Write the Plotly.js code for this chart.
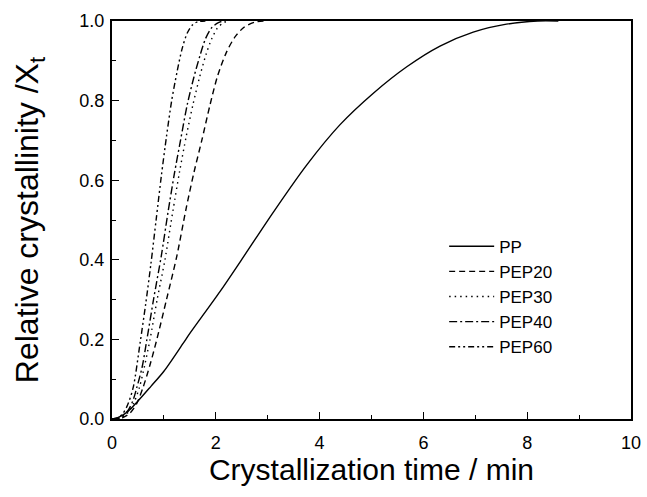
<!DOCTYPE html>
<html>
<head>
<meta charset="utf-8">
<script src="https://cdn.plot.ly/plotly-3.0.1.min.js"></script>
<style>html,body{margin:0;padding:0;background:#fff;}#chart{width:647px;height:497px;}</style>
</head>
<body>
<div id="chart"></div>
<script>
// Data
const ppTime = [0, 0.1, 0.3, 0.5, 0.75, 1.0, 1.37, 1.5, 2.08, 2.47, 3.11, 3.75, 4.39, 5.03, 5.68, 6.32, 6.96, 7.6, 8.2, 8.6];
const ppX    = [0, 0.003, 0.018, 0.045, 0.082, 0.12, 0.19, 0.215, 0.32, 0.395, 0.52, 0.638, 0.739, 0.818, 0.885, 0.937, 0.972, 0.992, 1.0, 1.0];

const pep20Time = [0, 0.2, 0.35, 0.48, 0.6, 0.73, 0.86, 1.05, 1.25, 1.43, 1.58, 1.73, 1.89, 2.03, 2.2, 2.37, 2.55, 2.75, 2.95];
const pep20X    = [0, 0.003, 0.015, 0.04, 0.08, 0.135, 0.198, 0.30, 0.41, 0.53, 0.62, 0.70, 0.79, 0.86, 0.92, 0.96, 0.985, 0.997, 1.0];

const pep30Time = [0, 0.15, 0.3, 0.42, 0.53, 0.63, 0.73, 0.87, 1.02, 1.17, 1.3, 1.43, 1.56, 1.69, 1.81, 1.92, 2.03, 2.15, 2.25];
const pep30X    = [0, 0.002, 0.015, 0.04, 0.08, 0.135, 0.198, 0.30, 0.40, 0.52, 0.62, 0.71, 0.79, 0.86, 0.915, 0.955, 0.982, 0.996, 1.0];

const pep40Time = [0, 0.15, 0.3, 0.4, 0.48, 0.58, 0.67, 0.8, 0.95, 1.08, 1.2, 1.32, 1.45, 1.58, 1.70, 1.8, 1.92, 2.05, 2.15];
const pep40X    = [0, 0.003, 0.02, 0.045, 0.08, 0.13, 0.198, 0.30, 0.41, 0.52, 0.615, 0.70, 0.79, 0.86, 0.915, 0.955, 0.983, 0.996, 1.0];

const pep60Time = [0, 0.1, 0.2, 0.3, 0.41, 0.54, 0.65, 0.75, 0.85, 0.95, 1.05, 1.15, 1.25, 1.35, 1.45, 1.55, 1.65, 1.8];
const pep60X    = [0, 0.003, 0.012, 0.035, 0.08, 0.19, 0.29, 0.39, 0.50, 0.61, 0.71, 0.80, 0.87, 0.93, 0.97, 0.99, 0.998, 1.0];

const seriesNames = ['PP', 'PEP20', 'PEP30', 'PEP40', 'PEP60'];
const xTickVals = [0, 2, 4, 6, 8, 10];
const yTickVals = [0, 0.2, 0.4, 0.6, 0.8, 1.0];

const dashes = ['solid', '6px,4px', '1.5px,4px', '8px,3px,2px,3px', '6px,3px,2px,3px,2px,3px'];
const xs = [ppTime, pep20Time, pep30Time, pep40Time, pep60Time];
const ys = [ppX, pep20X, pep30X, pep40X, pep60X];

const traces = seriesNames.map((n, i) => ({
  x: xs[i], y: ys[i], name: n, type: 'scatter', mode: 'lines',
  line: {color: '#000', width: 1.4, dash: dashes[i], shape: 'spline', smoothing: 0.8}
}));

const fam = 'Liberation Sans, Arial, sans-serif';
const axisFont = {family: fam, size: 18, color: '#000'};
const layout = {
  width: 647, height: 497,
  margin: {l: 112, r: 16, t: 21, b: 78},
  paper_bgcolor: '#fff', plot_bgcolor: '#fff',
  showlegend: true,
  legend: {x: 0.64, y: 0.478, xanchor: 'left', yanchor: 'top', bgcolor: 'rgba(0,0,0,0)',
           font: {family: fam, size: 17, color: '#000'},
           itemwidth: 45, tracegroupgap: 0},
  xaxis: {
    range: [0, 10], tickvals: xTickVals, ticktext: xTickVals.map(String),
    ticks: 'inside', ticklen: 7, tickwidth: 1.3, tickcolor: '#000',
    minor: {ticks: 'inside', ticklen: 4, tickwidth: 1, tickcolor: '#000', dtick: 1},
    showline: true, linewidth: 2, linecolor: '#000', mirror: true,
    showgrid: false, zeroline: false, tickfont: axisFont, ticklabelstandoff: 6,
    title: {text: 'Crystallization time / min', font: {family: fam, size: 30, color: '#000'}, standoff: 5}
  },
  yaxis: {
    range: [0, 1], tickvals: yTickVals, ticktext: yTickVals.map(v => v.toFixed(1)),
    ticks: 'inside', ticklen: 7, tickwidth: 1.3, tickcolor: '#000',
    minor: {ticks: 'inside', ticklen: 4, tickwidth: 1, tickcolor: '#000', dtick: 0.1},
    showline: true, linewidth: 2, linecolor: '#000', mirror: true,
    showgrid: false, zeroline: false, tickfont: axisFont, ticklabelstandoff: 2,
    title: {text: 'Relative crystallinity /X<sub>t</sub>', font: {family: fam, size: 32, color: '#000'}, standoff: 31}
  }
};

Plotly.newPlot('chart', traces, layout, {staticPlot: true, displayModeBar: false});
</script>
</body>
</html>
